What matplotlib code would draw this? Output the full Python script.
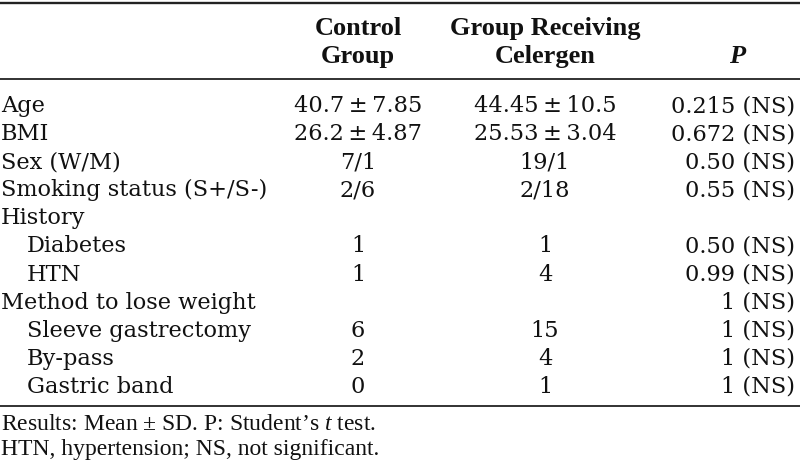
import matplotlib
matplotlib.use("Agg")
import matplotlib.pyplot as plt

# ----------------------------------
# Table content
# ----------------------------------
row_labels = ["Age", "BMI", "Sex (W/M)", "Smoking status (S+/S-)", "History",
              "Diabetes", "HTN", "Method to lose weight",
              "Sleeve gastrectomy", "By-pass", "Gastric band"]
row_indent = [0, 0, 0, 0, 0, 1, 1, 0, 1, 1, 1]
control = ["40.7\u2009\u00b1\u20097.85", "26.2\u2009\u00b1\u20094.87", "7/1", "2/6", "",
           "1", "1", "", "6", "2", "0"]
celergen = ["44.45\u2009\u00b1\u200910.5", "25.53\u2009\u00b1\u20093.04", "19/1", "2/18", "",
            "1", "4", "", "15", "4", "1"]
p_values = ["0.215 (NS)", "0.672 (NS)", "0.50 (NS)", "0.55 (NS)", "",
            "0.50 (NS)", "0.99 (NS)", "1 (NS)", "1 (NS)", "1 (NS)", "1 (NS)"]
headers = ["Control\nGroup", "Group Receiving\nCelergen"]
footnotes = ["Results: Mean \u00b1 SD. P: Student\u2019s $t$ test.",
             "HTN, hypertension; NS, not significant."]

plt.rcParams["mathtext.fontset"] = "custom"
plt.rcParams["mathtext.it"] = "Liberation Serif:italic"
plt.rcParams["mathtext.rm"] = "Liberation Serif"

W, H = 800, 471
fig = plt.figure(figsize=(W / 100, H / 100), dpi=100)
ax = fig.add_axes([0, 0, 1, 1])
ax.set_xlim(0, W)
ax.set_ylim(H, 0)
ax.axis("off")

body = dict(family="DejaVu Serif", fontsize=16.2, color="#111111")
head = dict(family="Liberation Serif", fontsize=19, fontweight="bold", color="#111111")

# rules
ax.plot([0, W], [3, 3], color="#222222", lw=1.7, solid_capstyle="butt")
ax.plot([0, W], [78.5, 78.5], color="#222222", lw=1.3, solid_capstyle="butt")
ax.plot([0, W], [406, 406], color="#222222", lw=1.3, solid_capstyle="butt")

# header
col_x = [358, 545]
for x, h in zip(col_x, headers):
    top, bottom = h.split("\n")
    ax.text(x, 35, top, ha="center", va="baseline", **head)
    ax.text(x, 63, bottom, ha="center", va="baseline", **head)
ax.text(737, 63, "P", ha="center", va="baseline", style="italic", **head)

# body rows
y0, dy = 112, 28.1
for i, lab in enumerate(row_labels):
    y = y0 + i * dy
    ax.text(1 + 26 * row_indent[i], y, lab, ha="left", va="baseline", **body)
    ax.text(col_x[0], y, control[i], ha="center", va="baseline", **body)
    ax.text(col_x[1], y, celergen[i], ha="center", va="baseline", **body)
    ax.text(795, y, p_values[i], ha="right", va="baseline", **body)

# footnotes
for j, note in enumerate(footnotes):
    ax.text(1, 430 + j * 25, note, ha="left", va="baseline",
            family="Liberation Serif", fontsize=17, color="#111111")

fig.savefig("out.png", dpi=100, facecolor="white")
